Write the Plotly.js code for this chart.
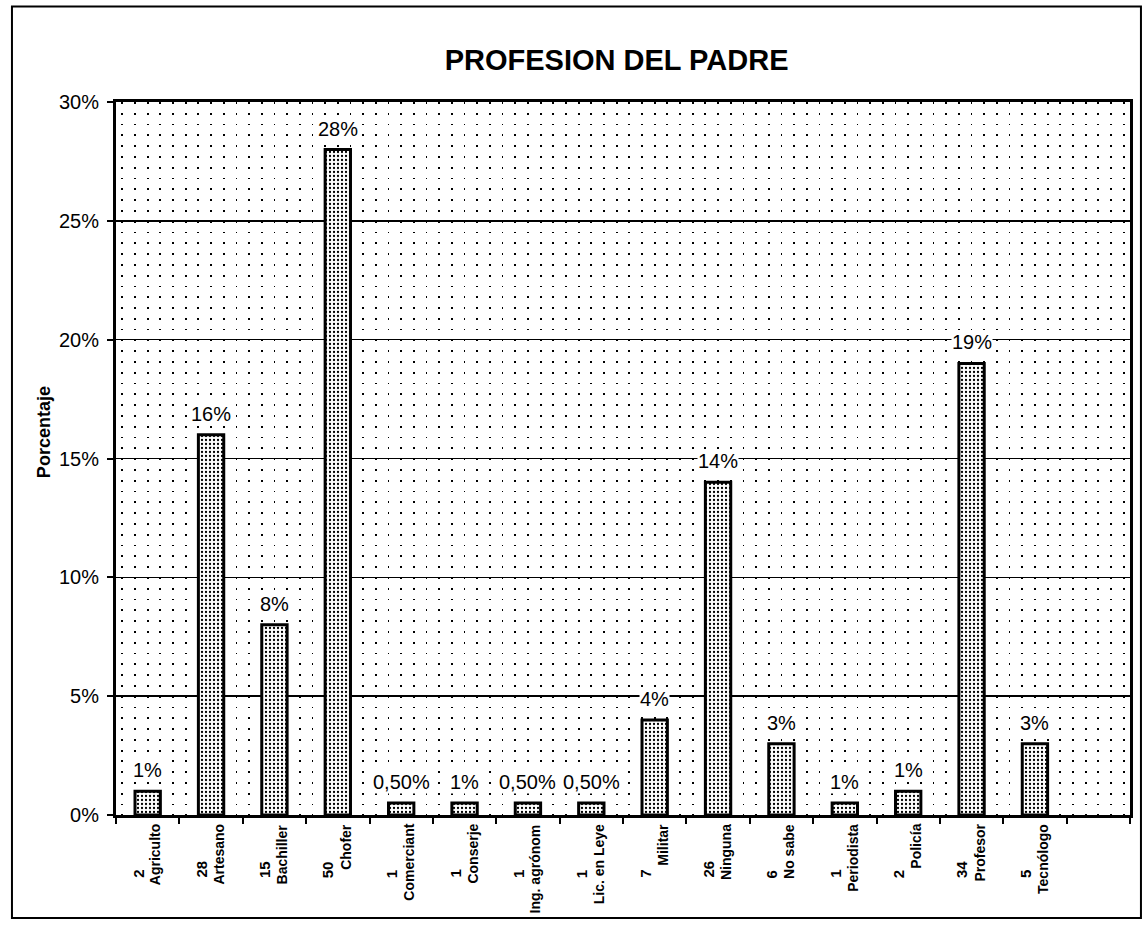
<!DOCTYPE html>
<html>
<head>
<meta charset="utf-8">
<script src="https://cdn.plot.ly/plotly-3.0.1.min.js"></script>
<style>
html,body{margin:0;padding:0;background:#fff;}
#chart{width:1144px;height:925px;}
</style>
</head>
<body>
<div id="chart"></div>
<script>
const categories = ["Agriculto","Artesano","Bachiller","Chofer","Comerciant","Conserje","Ing. agrónom","Lic. en Leye","Militar","Ninguna","No sabe","Periodista","Policía","Profesor","Tecnólogo"];
const counts = [2,28,15,50,1,1,1,1,7,26,6,1,2,34,5];
const values = [1,16,8,28,0.5,0.5,0.5,0.5,4,14,3,0.5,1,19,3];
const valueLabels = ["1%","16%","8%","28%","0,50%","1%","0,50%","0,50%","4%","14%","3%","1%","1%","19%","3%"];
const yTicks = [0,5,10,15,20,25,30];

const FONT = "Arial, 'Liberation Sans', sans-serif";
const nSlots = categories.length + 1;
const idx = categories.map((_, i) => i);
const boundaries = [];
for (let i = 0; i <= nSlots; i++) boundaries.push(i - 0.5);

const trace = {
  type: 'bar',
  x: idx,
  y: values,
  width: 0.4,
  marker: {
    color: '#ffffff',
    line: {color: '#000', width: 3},
    pattern: {shape: '.', fgcolor: '#000', bgcolor: '#fff', size: 4, solidity: 0.25}
  },
  hoverinfo: 'skip'
};

const annotations = [];
idx.forEach(i => {
  annotations.push({
    x: i, y: values[i], xref: 'x', yref: 'y', text: valueLabels[i],
    showarrow: false, yanchor: 'bottom', yshift: 9,
    font: {family: FONT, size: 20, color: '#000'},
    bgcolor: '#fff', borderpad: 0
  });
  annotations.push({
    x: i, y: -0.0098, xref: 'x', yref: 'paper', text: '<b>' + categories[i] + '</b>',
    showarrow: false, textangle: -90, yanchor: 'top', xanchor: 'center', xshift: 8,
    font: {family: FONT, size: 14, color: '#000'}
  });
  annotations.push({
    x: i, y: -0.08, xref: 'x', yref: 'paper', text: '<b>' + counts[i] + '</b>',
    showarrow: false, textangle: -90, yanchor: 'bottom', xanchor: 'center', xshift: -10, yshift: -8,
    font: {family: FONT, size: 15, color: '#000'}
  });
});
annotations.push({
  x: -0.071, y: 0.537, xref: 'paper', yref: 'paper', text: '<b>Porcentaje</b>',
  showarrow: false, textangle: -90, xanchor: 'center', yanchor: 'middle',
  font: {family: FONT, size: 18, color: '#000'}
});

const layout = {
  width: 1144, height: 925,
  margin: {l: 116, r: 14, t: 102, b: 110},
  paper_bgcolor: '#fff', plot_bgcolor: '#fff',
  showlegend: false,
  title: {
    text: '<b>PROFESION DEL PADRE</b>',
    x: 0.539, xanchor: 'center', y: 0.935, yanchor: 'middle', yref: 'container',
    font: {family: FONT, size: 29, color: '#000'}
  },
  xaxis: {
    range: [-0.5, nSlots - 0.5],
    tickmode: 'array', tickvals: boundaries, ticktext: boundaries.map(() => ''),
    ticks: 'outside', ticklen: 6, tickwidth: 2, tickcolor: '#000',
    showgrid: false, zeroline: false,
    showline: true, linecolor: '#000', linewidth: 3, mirror: true,
    minor: {
      tick0: -0.4, dtick: 0.2, showgrid: true, gridcolor: '#000',
      gridwidth: 1.8, griddash: '1.8px,8.995px', ticks: ''
    },
    fixedrange: true
  },
  yaxis: {
    range: [0, 30],
    tickmode: 'array', tickvals: yTicks, ticktext: yTicks.map(v => v + '%'),
    ticks: 'outside', ticklen: 6, tickwidth: 2, tickcolor: '#000',
    ticklabelstandoff: 4,
    tickfont: {family: FONT, size: 20, color: '#000'},
    showgrid: true, gridcolor: '#000', gridwidth: 1.6,
    zeroline: false,
    showline: true, linecolor: '#000', linewidth: 3, mirror: true,
    fixedrange: true
  },
  annotations: annotations,
  shapes: [{
    type: 'rect', xref: 'paper', yref: 'paper',
    x0: -0.1026, x1: 1.0108, y0: -0.1446, y1: 1.134,
    line: {color: '#000', width: 2}, fillcolor: 'rgba(0,0,0,0)', layer: 'below'
  }],
  bargap: 0.6
};

Plotly.newPlot('chart', [trace], layout, {displayModeBar: false, staticPlot: true});
</script>
</body>
</html>
